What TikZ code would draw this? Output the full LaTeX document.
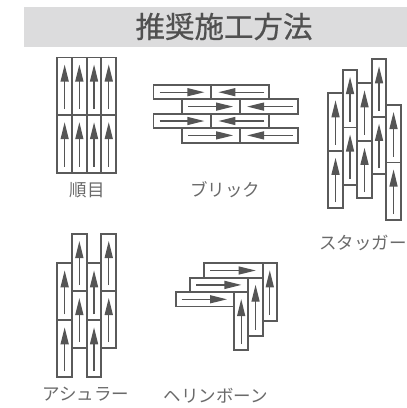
\documentclass[tikz,border=0pt]{standalone}
\usepackage{fontspec}
\newfontfamily\jp{Noto Sans CJK JP}
\newfontfamily\jpm[FakeBold=0.6]{Noto Sans CJK JP}
\usetikzlibrary{arrows.meta}
\definecolor{bd}{HTML}{5A5A5A}
\definecolor{ar}{HTML}{555555}
\definecolor{lb}{HTML}{6A6A6A}
\definecolor{tt}{HTML}{505050}
\definecolor{hdr}{HTML}{DCDCDD}
\newcommand\VB[4]{%
  \draw[board] (#1,#2) rectangle ++(#3,#4);
  \draw[arr] ({#1+#3/2},{#2+#4-6}) -- ({#1+#3/2},{#2+7});}
\newcommand\HR[4]{%
  \draw[board] (#1,#2) rectangle ++(#3,#4);
  \draw[arr] ({#1+6},{#2+#4/2}) -- ({#1+#3-7},{#2+#4/2});}
\newcommand\HL[4]{%
  \draw[board] (#1,#2) rectangle ++(#3,#4);
  \draw[arr] ({#1+#3-5},{#2+#4/2}) -- ({#1+7},{#2+#4/2});}
\begin{document}
\begin{tikzpicture}[x=1pt,y=-1pt,
  board/.style={draw=bd,line width=1.9pt},
  arr/.style={draw=ar,line width=1.3pt,-{Triangle[length=17pt,width=8pt]}},
  lbl/.style={font=\jp\fontsize{17.5}{17.5}\selectfont,text=lb,inner sep=0pt}]
\useasboundingbox (0,0) rectangle (407,408);
% header
\fill[hdr] (24,7) rectangle (407,46.5);
\node[font=\jpm\fontsize{29.5}{29.5}\selectfont,text=tt,inner sep=0pt] (title) at (224,26.5) {推奨施工方法};
% 順目
\foreach \x in {57.3,72,86.7,101.4}{
  \foreach \y in {57.5,115.2}{\VB{\x}{\y}{14.7}{57.7}}}
\node[lbl] (junme) at (87.5,190) {順目};
% ブリック
\foreach \y in {85,113.8}{
  \HR{153.5}{\y}{57.9}{14.4}
  \HL{211.4}{\y}{57.9}{14.4}}
\foreach \y in {99.4,128.2}{
  \HR{182.4}{\y}{57.7}{14.4}
  \HL{240.1}{\y}{57.7}{14.4}}
\node[lbl] (brick) at (225,190) {ブリック};
% スタッガー
\foreach \x/\t in {328.3/93.3,342.8/70,357.3/83.3,371.8/59.3,386.3/105}{
  \VB{\x}{\t}{14.5}{57.5}
  \VB{\x}{\t+57.5}{14.5}{57.5}}
\node[lbl] (stagger) at (363,243) {スタッガー};
% アシュラー
\foreach \x/\t in {57.3/263.3,72/234,86.7/263.3,101.4/234}{
  \VB{\x}{\t}{14.7}{57}
  \VB{\x}{\t+57}{14.7}{57}}
\node[lbl] (ashlar) at (86,394) {アシュラー};
% ヘリンボーン
\HR{204.3}{263.3}{58.4}{14.4}
\HR{190}{277.7}{58.4}{14.4}
\HR{175.6}{292.1}{58.4}{14.4}
\VB{262.7}{263.3}{14.2}{57.7}
\VB{248.4}{277.7}{14.3}{57.9}
\VB{234}{292.1}{14.4}{58}
\node[lbl] (herring) at (216,396) {ヘリンボーン};
\end{tikzpicture}
\end{document}
